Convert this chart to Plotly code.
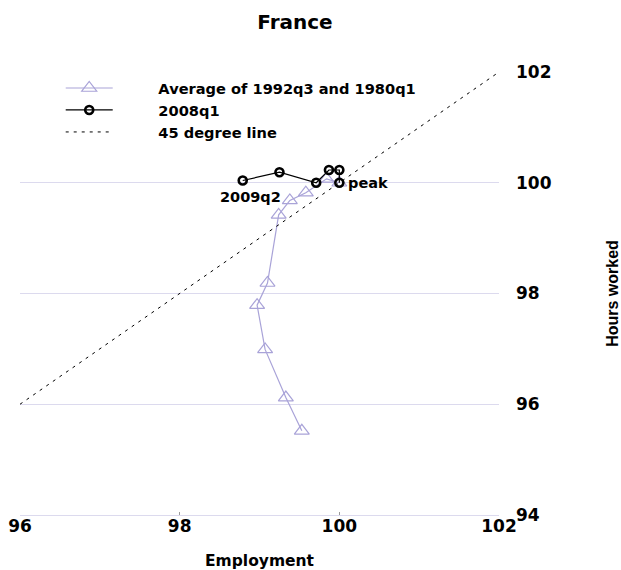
import plotly.graph_objects as go

# Average of the 1992q3 and 1980q1 episodes, quarters from the peak (peak = 100)
avg_employment = [100.0, 99.84, 99.58, 99.38, 99.24, 99.10, 98.97, 99.07, 99.33, 99.53]
avg_hours = [100.0, 100.07, 99.82, 99.68, 99.42, 98.19, 97.79, 96.99, 96.12, 95.52]

# 2008q1 episode, peak through 2009q2
rec_employment = [100.0, 100.0, 99.87, 99.71, 99.25, 98.79]
rec_hours = [100.0, 100.23, 100.23, 100.0, 100.19, 100.04]
rec_labels = ["peak", "", "", "", "", "2009q2"]

# 45 degree reference line
diag = [96, 102]

x_ticks = [96, 98, 100, 102]
y_ticks = [94, 96, 98, 100, 102]

series_names = ["Average of 1992q3 and 1980q1", "2008q1", "45 degree line"]

LAV = "#a9a3d8"
GRID = "#dcdaee"
BOLD = "DejaVu Sans"
PAD = "\u00a0" * 8  # gap between legend key and its text


def bold_font(size, family=BOLD):
    return dict(family=family, size=size, color="black", weight="bold")


fig = go.Figure()

fig.add_trace(go.Scatter(
    x=avg_employment, y=avg_hours, mode="lines+markers",
    name=PAD + series_names[0],
    line=dict(color=LAV, width=1.2),
    marker=dict(symbol="triangle-up-open", size=13, color=LAV, line=dict(width=1.2, color=LAV)),
))
fig.add_trace(go.Scatter(
    x=rec_employment, y=rec_hours, mode="lines+markers",
    name=PAD + series_names[1],
    line=dict(color="black", width=1.2),
    marker=dict(symbol="circle-open", size=8, color="black", line=dict(width=2.6, color="black")),
))
fig.add_trace(go.Scatter(
    x=diag, y=diag, mode="lines", name=PAD + series_names[2],
    line=dict(color="black", width=1, dash="3px,5px"),
))

# point labels
for xv, yv, lab in zip(rec_employment, rec_hours, rec_labels):
    if lab == "peak":
        fig.add_annotation(x=xv, y=yv, text=lab, showarrow=False, xanchor="left",
                           yanchor="middle", xshift=7, font=bold_font(14.5))
    elif lab:
        fig.add_annotation(x=xv, y=yv, text=lab, showarrow=False, xanchor="center",
                           yanchor="top", xshift=8, yshift=-6, font=bold_font(14.5))

fig.update_layout(
    width=621, height=570,
    margin=dict(l=20, r=122, t=72, b=55, autoexpand=False),
    paper_bgcolor="white", plot_bgcolor="white",
    title=dict(text="France", x=0.475, xref="container", xanchor="center",
               y=1 - 22 / 570, yref="container", yanchor="middle",
               font=bold_font(20)),
    showlegend=True,
    legend=dict(x=0.085, y=1.0, xanchor="left", yanchor="top",
                bgcolor="rgba(0,0,0,0)", itemwidth=47, tracegroupgap=0,
                font=bold_font(14.6)),
    xaxis=dict(range=[96, 102], tickvals=x_ticks, ticktext=[str(v) for v in x_ticks],
               automargin=False,
               showgrid=False, zeroline=False, showline=True, linecolor=GRID, linewidth=1,
               ticks="inside", ticklen=3, tickcolor="#999999", ticklabelstandoff=-4,
               tickfont=bold_font(17),
               title=dict(text="Employment", standoff=20, font=bold_font(15.5))),
    yaxis=dict(range=[94, 102], tickvals=y_ticks, side="right", automargin=False,
               showgrid=True, gridcolor=GRID, gridwidth=1, zeroline=False, showline=False,
               ticks="", ticklabelstandoff=16,
               tickfont=bold_font(17),
               title=dict(text="Hours worked", standoff=62,
                          font=bold_font(16, "Liberation Sans"))),
)

fig.write_html("out.html")
